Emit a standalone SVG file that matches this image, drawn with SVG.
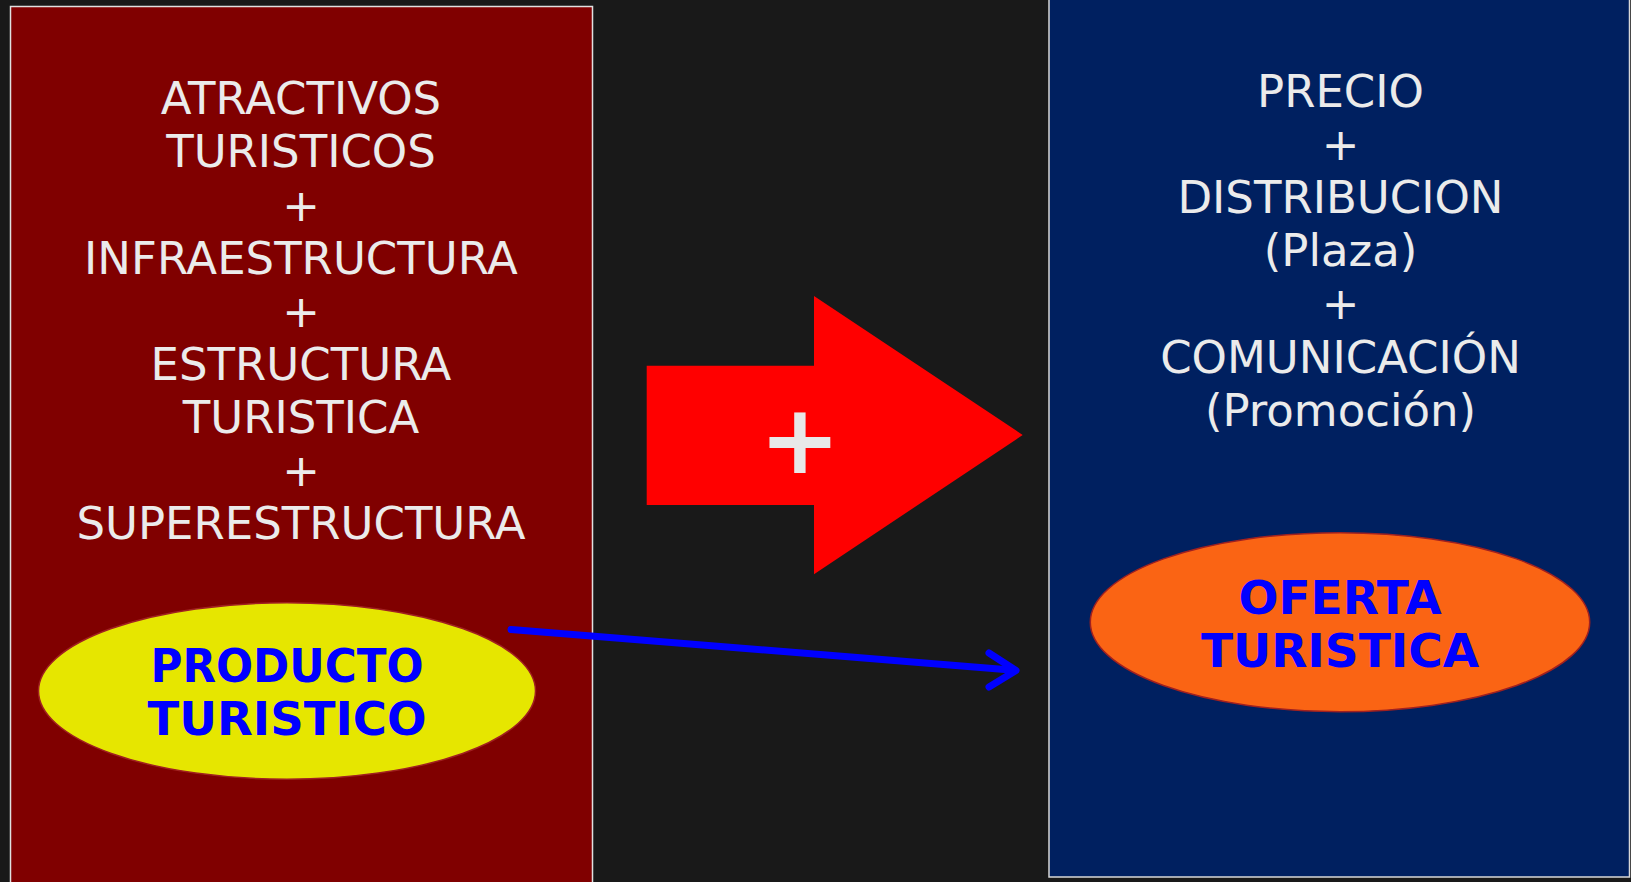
<svg xmlns="http://www.w3.org/2000/svg" width="1631" height="882" viewBox="0 0 1631 882">
<style>
.col{font-family:"DejaVu Sans","Liberation Sans",sans-serif;font-size:45px;fill:#EBEBEB;text-anchor:middle}
.lbl{font-family:"DejaVu Sans","Liberation Sans",sans-serif;font-weight:bold;fill:#0000FF;text-anchor:middle}
.conn{fill:none;stroke:#0000FF;stroke-width:7;stroke-linecap:round;stroke-linejoin:round}
</style>
<rect x="0" y="0" width="1631" height="882" fill="#191919"/>
<g id="left-box">
<rect x="10.5" y="6.5" width="582" height="890" fill="#800000" stroke="#E0E0E0" stroke-width="1.5"/>
<text class="col" x="301" y="114.3">ATRACTIVOS</text>
<text class="col" x="301" y="167.4">TURISTICOS</text>
<text class="col" x="301" y="220.5">+</text>
<text class="col" x="301" y="273.6">INFRAESTRUCTURA</text>
<text class="col" x="301" y="326.7">+</text>
<text class="col" x="301" y="379.8">ESTRUCTURA</text>
<text class="col" x="301" y="432.9">TURISTICA</text>
<text class="col" x="301" y="486">+</text>
<text class="col" x="301" y="539">SUPERESTRUCTURA</text>
</g>
<g id="right-box">
<rect x="1049" y="-3" width="580.5" height="880" fill="#002060" stroke="#D8D8D8" stroke-width="1.5"/>
<text class="col" x="1340.5" y="106.7">PRECIO</text>
<text class="col" x="1340.5" y="159.9">+</text>
<text class="col" x="1340.5" y="213">DISTRIBUCION</text>
<text class="col" x="1340.5" y="266.2">(Plaza)</text>
<text class="col" x="1340.5" y="319.4">+</text>
<text class="col" x="1340.5" y="372.6">COMUNICACIÓN</text>
<text class="col" x="1340.5" y="425.8">(Promoción)</text>
</g>
<g id="producto">
<ellipse cx="287" cy="691" rx="248.5" ry="88.3" fill="#E6E600" stroke="#A02020" stroke-width="1.5"/>
<text class="lbl" x="287" y="681.7" font-size="46" textLength="273" lengthAdjust="spacingAndGlyphs">PRODUCTO</text>
<text class="lbl" x="287" y="735" font-size="46" textLength="279" lengthAdjust="spacingAndGlyphs">TURISTICO</text>
</g>
<g id="oferta">
<ellipse cx="1340" cy="622.2" rx="249.7" ry="89.5" fill="#FA6414" stroke="#A02020" stroke-width="1.5"/>
<text class="lbl" x="1340" y="614.3" font-size="47">OFERTA</text>
<text class="lbl" x="1340" y="666.7" font-size="47">TURISTICA</text>
</g>
<g id="plus-arrow">
<polygon points="646.7,365.7 814,365.7 814,296 1022.7,435 814,574.3 814,505 646.7,505" fill="#FF0000"/>
<text x="800" y="473" font-family="DejaVu Sans, sans-serif" font-weight="bold" font-size="97" fill="#E8E8E8" text-anchor="middle">+</text>
</g>
<g id="connectors">
<line class="conn" x1="511" y1="629.5" x2="1014" y2="670.3" stroke-linecap="butt"/>
<polyline class="conn" points="989,653 1016,670.5 989,687"/>
</g>
</svg>
